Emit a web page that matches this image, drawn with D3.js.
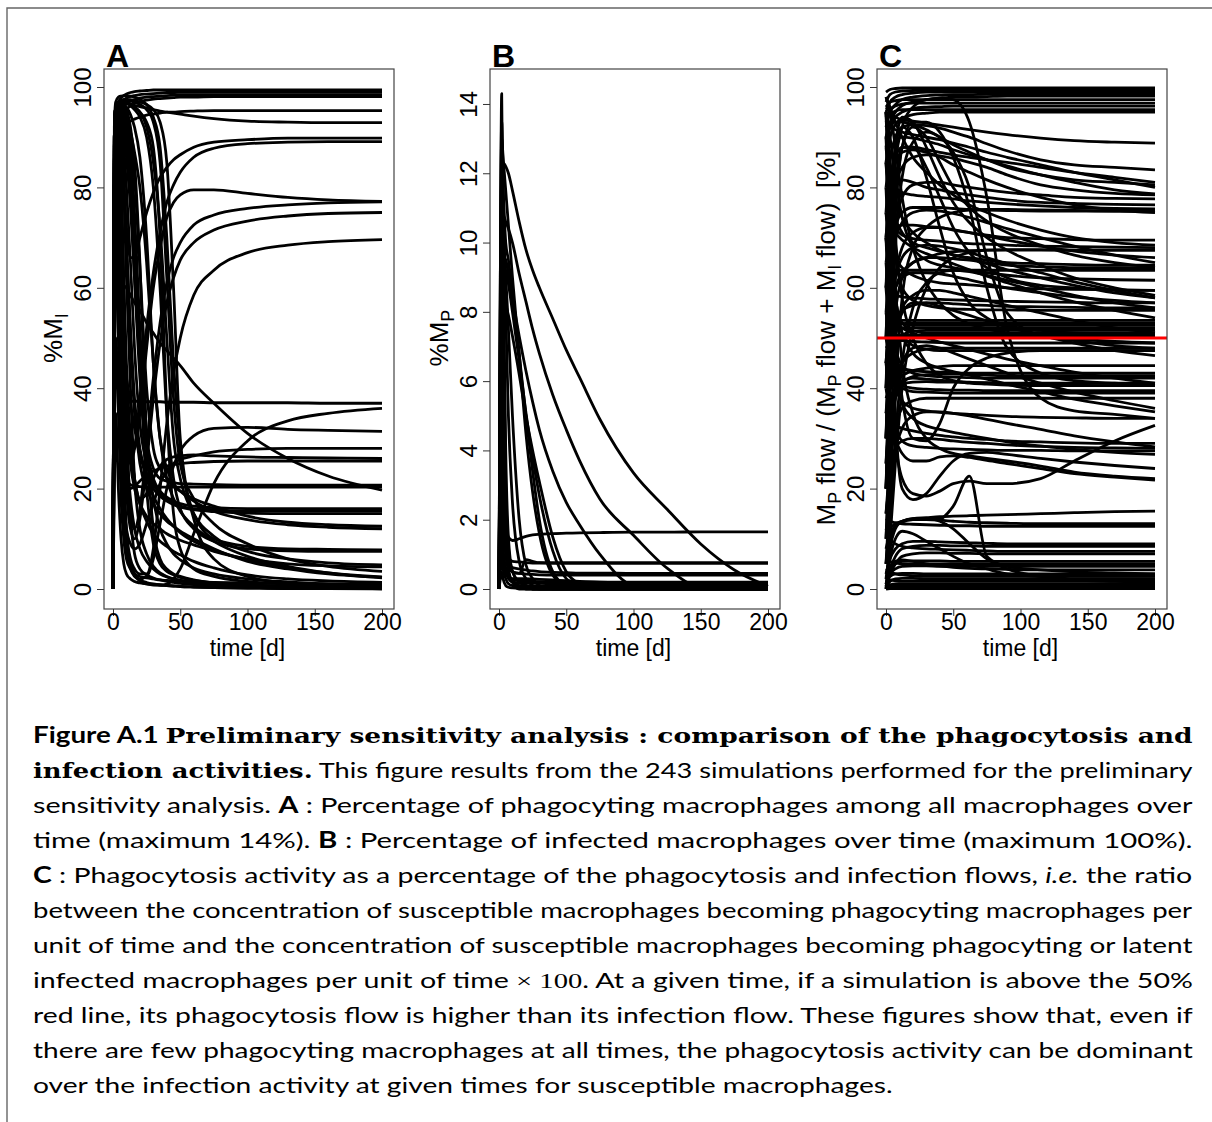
<!DOCTYPE html>
<html>
<head>
<meta charset="utf-8">
<script src="https://cdn.jsdelivr.net/npm/d3@7"></script>
<style>
  body { margin: 0; background: #fff; }
  svg text { font-family: "Liberation Sans", Arial, sans-serif; }
</style>
</head>
<body>
<div id="chart"></div>
<script>
// ---- data ----
const xTicks = [0, 50, 100, 150, 200];
const yTicksA = [0, 20, 40, 60, 80, 100];
const yTicksB = [0, 2, 4, 6, 8, 10, 12, 14];
const yTicksC = [0, 20, 40, 60, 80, 100];
const redLineLevel = 50;

// panel A: %M_I, sampled at these days
const timesA = [0, 1, 2, 4, 6, 8, 10, 13, 16, 20, 25, 30, 35, 40, 45, 50, 60, 75, 100, 130, 160, 200];
const curvesA = [
  [0,88,95,97,97.8,98.3,98.6,98.9,99.1,99.2,99.3,99.4,99.4,99.4,99.4,99.4,99.4,99.4,99.4,99.4,99.4,99.4],
  [0,75,93,96,97,97.5,97.8,98.1,98.3,98.5,98.6,98.7,98.8,98.9,98.9,99,99,99,99,99,99,99],
  [0,60,90,94,95.5,96.2,96.7,97.2,97.5,97.8,98,98.1,98.2,98.3,98.4,98.5,98.5,98.5,98.5,98.5,98.5,98.5],
  [0,50,85,92,94,95,95.6,96.2,96.7,97.1,97.4,97.6,97.7,97.8,97.9,98,98,98.1,98.1,98.1,98.1,98.1],
  [0,40,80,89,91,92,92.6,93.2,93.6,94,94.4,94.6,94.8,95,95,95.1,95.2,95.3,95.3,95.3,95.3,95.3],
  [0,85,94,96,96.5,96.6,96.6,96.5,96.3,96.1,95.8,95.5,95.2,95,94.8,94.6,94.2,93.7,93.2,93,92.9,92.9],
  [0,70,90,93,88,80,72,66,66,70,75,79,82,84,85.5,86.5,88,89,89.5,89.8,89.8,89.8],
  [0,60,85,80,60,40,30,25,28,38,52,63,71,77,80.5,83,86,87.8,88.7,89,89.1,89.1],
  [0,70,90,88,75,55,40,30,28,35,48,60,68,74,77,78.5,79.5,79.5,78.8,78,77.5,77.2],
  [0,60,85,80,60,40,25,15,12,16,28,42,53,61,66,69,72.5,74.5,75.8,76.5,76.9,77.1],
  [0,60,85,78,55,35,20,12,10,14,25,38,49,57,62,65.5,69,71.5,73.3,74.3,74.8,75],
  [0,50,80,70,45,25,12,6,4,3,3,8,20,33,43,50,58.5,63.5,67,68.5,69.2,69.6],
  [0,60,80,60,40,37.5,37.5,37.4,37.4,37.4,37.3,37.3,37.3,37.2,37.2,37.2,37.2,37.1,37.1,37.1,37,37],
  [0,50,80,60,35,20,10,5,3,1.5,1,0.8,0.8,1,2,4,11,21,29.5,33.5,35,36],
  [0,50,80,60,35,20,10,5,3,2,2.5,6,13,20,24.5,27.5,30.5,32,32.2,31.8,31.6,31.4],
  [0,45,75,55,30,18,12,9,8,9,13,17,21,23.5,25,25.8,26.5,27.3,27.8,28,28,28],
  [0,40,70,50,30,22,20,20,20.5,21.5,22.8,23.5,24,24.5,24.8,25,25.2,25.4,25.5,25.5,25.5,25.5],
  [0,55,88,85,70,52,38,28,22,18,19,22,24.5,25.8,26.3,26.5,26.7,26.5,26.3,26.2,26.1,26],
  [0,45,75,55,32,24,21.5,20.8,20.5,20.4,20.3,20.3,20.3,20.3,20.3,20.3,20.3,20.3,20.3,20.3,20.3,20.3],
  [0,85,95,96,95,92,86,76,62,45,30,24,22,21.5,21.2,21,20.9,20.8,20.7,20.7,20.7,20.7],
  [0,40,63,62.5,61.5,60.5,60,58.5,57,55.5,53,51,49,47.5,46,44.5,41,37,31,26,22.5,19.7],
  [0,90,96,96.5,96,94,90,80,62,42,28,22,19.5,18.3,17.5,17,16.5,16.2,16,16,16,16],
  [0,80,94,95,93,88,80,65,48,33,25,21,19,17.8,17,16.5,16,15.7,15.5,15.5,15.5,15.5],
  [0,70,90,91,88,80,68,52,38,28,23,20,18.5,17.5,16.8,16.3,15.8,15.4,15.1,15,15,15],
  [0,85,95,96,96,95.5,94,90,82,64,40,28,24,22,20.5,19.5,18,16.5,14.5,13.3,12.8,12.5],
  [0,90,96,96.8,96.8,96.5,96,94.5,92,86,70,45,30,24,21,19.5,17.5,15.5,13.8,12.8,12.3,12],
  [0,90,96,96.8,97,97,96.8,96.3,95.5,94,90,80,60,35,22,16,12,9.5,8,7.6,7.5,7.5],
  [0,90,96,96.8,97,97,96.9,96.6,96,95,92,85,72,50,30,22,15,10.5,7.5,6,5.2,4.8],
  [0,70,88,85,70,50,35,25,20,17,14.5,13,12,11,10.3,9.7,8.8,7.5,6,5,4.6,4.4],
  [0,85,94,94,90,82,70,50,35,25,20,17,15,13.5,12.5,11.5,10,8,5.5,4,3,2.3],
  [0,80,92,90,80,62,45,30,22,17,13.5,11,9.5,8.5,7.5,6.8,5.5,4.2,2.8,2,1.6,1.3],
  [0,60,80,60,30,15,8,4,2.5,1.8,1.3,1,0.8,0.7,0.6,0.5,0.4,0.3,0.2,0.1,0.1,0.1],
  [0,90,96,95,85,60,35,15,7,4,2.8,2.2,1.8,1.5,1.3,1.1,0.9,0.7,0.5,0.4,0.3,0.3],
  [0,90,96,97,97,96.5,95.5,92,85,65,30,12,6,4,3,2.5,1.8,1.2,0.8,0.5,0.4,0.3],
  [0,90,96,97,97,97,96.8,96.5,96,95,93,88,70,35,15,8,4,2.5,1.5,1,0.8,0.6],
  [0,88,96,97,96.5,95,92,85,70,45,20,9,5,3.5,2.8,2.3,1.7,1.2,0.8,0.6,0.5,0.4],
  [0,30,50,35,18,10,6,4,3,2.5,2.2,2,1.8,1.7,1.6,1.5,1.4,1.3,1.2,1.1,1,1],
  [0,20,35,20,10,5,3,2,1.5,1.2,1,0.9,0.8,0.7,0.6,0.5,0.4,0.3,0.2,0.1,0.1,0],
  [0,90,96,96,92,80,62,40,22,12,7,4.5,3.2,2.5,2,1.7,1.3,0.9,0.6,0.4,0.3,0.2],
  [0,50,75,70,55,40,28,18,12,8,5.5,4,3,2.4,2,1.7,1.3,1,0.7,0.5,0.4,0.3],
  [0,85,95,96.5,96.5,96,94.5,88,75,52,30,18,12,9,7,5.8,4.2,3,2,1.4,1,0.8],
  [0,90,96,97,97.3,97.5,97.5,97.5,97.3,97,96.5,95.5,93,85,60,30,15,10,8.5,8,7.9,7.8],
  [0,88,95,96.5,97,97.2,97.3,97.2,97,96.5,95.5,93,85,62,38,25,18,13,9,6,4.5,3.5],
  [0,92,97,98,98.2,98.3,98.3,98.2,98,97.5,96.5,94,88,70,45,28,14,6,2.5,1.2,0.7,0.5],
  [0,80,93,95,95,94.5,93.5,91,87,80,65,45,30,22,18,15.5,12.5,9.5,6.5,4.5,3.2,2.2],
  [0,30,48,48,47,45,42,37,32,27,22,18.5,16,14,12.5,11.2,9.5,7.8,5.8,4.2,3.2,2.4]
];

// panel B: %M_P
const timesB = [0, 1, 2, 3, 5, 7, 10, 15, 20, 25, 30, 40, 50, 60, 75, 100, 125, 150, 175, 200];
const curvesB = [
  [0,8,12,12.3,12.2,12,11.5,10.6,9.8,9.2,8.7,7.8,6.9,6.1,4.9,3.35,2.3,1.3,0.55,0.08],
  [0,7,10.5,10.8,10.6,10.4,10,9.1,8.3,7.5,6.8,5.6,4.6,3.7,2.6,1.55,0.6,0.05,0,0],
  [0,6,9,9.6,9.5,9.1,8.4,7.3,6.3,5.4,4.6,3.4,2.5,1.85,1,0.1,0,0,0,0],
  [0,8,12,11.5,10,9.5,8.5,6.8,5,3.4,2,0.5,0.1,0,0,0,0,0,0,0],
  [0,6,9,9.3,9.2,8.8,8,6.6,5.1,3.8,2.7,1.1,0.3,0.1,0,0,0,0,0,0],
  [0,5,8,8.3,8.2,7.9,7.3,6.2,5,4,3.1,1.5,0.5,0.15,0,0,0,0,0,0],
  [0,9,13,12.5,11.5,10.5,9,6.8,4.5,2.8,1.6,0.4,0.1,0,0,0,0,0,0,0],
  [0,9,14.3,10,4,1.5,0.5,0.2,0.1,0,0,0,0,0,0,0,0,0,0,0],
  [0,7,12,8,3,1.2,0.5,0.2,0.1,0,0,0,0,0,0,0,0,0,0,0],
  [0,6,10,6,2,0.6,0.2,0.1,0,0,0,0,0,0,0,0,0,0,0,0],
  [0,4,7,4,1.5,0.5,0.2,0,0,0,0,0,0,0,0,0,0,0,0,0],
  [0,9,13.5,12,8,5,2.5,0.8,0.3,0.1,0,0,0,0,0,0,0,0,0,0],
  [0,5,9.5,9.8,9,7.5,5,2,0.7,0.3,0.1,0,0,0,0,0,0,0,0,0],
  [0,2,4,3,2,1.5,1.4,1.45,1.52,1.56,1.58,1.6,1.61,1.62,1.63,1.64,1.64,1.65,1.65,1.65],
  [0,3,6,4,2,1,0.5,0.45,0.85,0.8,0.76,0.75,0.75,0.75,0.75,0.75,0.75,0.75,0.75,0.75],
  [0,2,5,3,1.5,0.9,0.8,0.78,0.76,0.75,0.75,0.75,0.75,0.75,0.75,0.75,0.75,0.75,0.75,0.75],
  [0,2,4,2.5,1.2,0.7,0.62,0.58,0.55,0.52,0.5,0.48,0.47,0.46,0.46,0.45,0.45,0.45,0.45,0.45],
  [0,1.5,3,2,1,0.6,0.5,0.45,0.43,0.42,0.41,0.4,0.4,0.4,0.4,0.4,0.4,0.4,0.4,0.4],
  [0,1,2,1.2,0.6,0.35,0.28,0.25,0.23,0.22,0.21,0.2,0.2,0.2,0.2,0.2,0.2,0.2,0.2,0.2],
  [0,1,1.5,1,0.5,0.3,0.2,0.18,0.17,0.16,0.16,0.15,0.15,0.15,0.15,0.15,0.15,0.15,0.15,0.15],
  [0,0.5,1,0.6,0.3,0.15,0.1,0.09,0.09,0.08,0.08,0.08,0.08,0.08,0.08,0.08,0.08,0.08,0.08,0.08],
  [0,0.3,0.5,0.3,0.1,0.05,0.03,0.02,0.02,0.02,0.02,0.02,0.02,0.02,0.02,0.02,0.02,0.02,0.02,0.02],
  [0,1,2,1,0.5,0.35,0.3,0.3,0.3,0.29,0.28,0.26,0.24,0.22,0.2,0.17,0.14,0.12,0.1,0.1]
];

// panel C: phagocytosis flow share [%]
const timesC = [0, 3, 7, 12, 20, 30, 40, 50, 62, 75, 90, 115, 140, 170, 200];
const curvesC = [
  [99,99.5,99.7,99.8,99.8,99.8,99.8,99.8,99.8,99.8,99.8,99.8,99.8,99.8,99.8],
  [97,98.5,99,99.2,99.3,99.4,99.4,99.4,99.4,99.4,99.4,99.4,99.4,99.4,99.4],
  [95,97,98,98.5,98.8,99,99,99,99,99,99,99,99,99,99],
  [92,95,96.5,97.5,98,98.3,98.4,98.5,98.5,98.6,98.6,98.6,98.6,98.6,98.6],
  [90,93,95,96.3,97,97.5,97.8,98,98,98.1,98.2,98.2,98.2,98.2,98.2],
  [96,97,97.3,97.5,97.5,97.5,97.5,97.5,97.5,97.5,97.5,97.5,97.5,97.5,97.5],
  [94,95.5,96.2,96.6,96.8,96.8,96.8,96.8,96.8,96.8,96.8,96.8,96.8,96.8,96.8],
  [88,92,94,95,95.7,96,96.1,96.2,96.2,96.2,96.2,96.2,96.2,96.2,96.2],
  [93,94.5,95.2,95.5,95.5,95.5,95.5,95.5,95.5,95.5,95.5,95.5,95.5,95.5,95.5],
  [85,90,92.5,93.8,94.5,94.8,95,95,95,95,95,95,95,95,95],
  [96,95,94,93.5,93.2,92.8,92.4,92,91.5,91,90.5,89.8,89.3,89,88.8],
  [60,72,85,92,96,97.5,97.8,97.5,93,78,52,38,35.5,34.8,34],
  [30,55,75,88,93,93,91,86,76,60,48,43,41.5,41,40.5],
  [20,45,68,82,89,91,90,87,80,66,55,50.5,49.5,48.5,48],
  [75,85,90,92,92.5,92.3,91.8,91,90,88.7,87.3,85.5,84.5,84,83.5],
  [60,78,86,88,88,87.5,87,86.5,86,85.5,85,84,83,82,81],
  [90,92,93,93,92.5,91.5,90,88.5,87,85.5,84,82.5,81.5,81,80.5],
  [50,70,80,84,86,86.5,86.3,85.8,85,84,82.5,80.5,79.5,78.8,78.5],
  [40,60,72,78,80.5,81,81,80.5,80,79.5,79,78.5,78,77.8,77.7],
  [70,78,81,81.5,81,80,79.5,79,78.5,78,77.5,77,76.8,76.6,76.5],
  [85,82,80,79,78.5,78.2,78,77.7,77.3,77,76.7,76.3,76,75.8,75.7],
  [55,65,72,75,76,76,76,75.8,75.6,75.5,75.4,75.3,75.3,75.3,75.3],
  [65,70,72,72.5,72.5,72.2,72,71.6,71,70.3,69.5,68.3,67.3,66.5,66],
  [30,50,62,68,71,72,72,71.5,71,70.5,70,69.8,69.6,69.5,69.5],
  [80,75,72,70.5,69.8,69.5,69.3,69,68.8,68.7,68.5,68.3,68.2,68.1,68],
  [45,55,60,63,65,66,66.8,67.2,67.4,67.5,67.5,67.5,67.5,67.5,67.5],
  [90,85,78,74,71,69,67.5,66.5,66,65.5,65,64.8,64.6,64.5,64.5],
  [20,40,55,62,65,66,66,65.8,65.5,65,64.5,64.2,64,64,64],
  [65,64,63.5,63.5,63.5,63.5,63.5,63.5,63.5,63.5,63.5,63.5,63.5,63.5,63.5],
  [95,90,82,74,68,65.5,64.5,64,63.5,63,62.5,62,61.8,61.6,61.5],
  [50,56,60,62,63,63,62.8,62.3,61.6,60.8,60,59,58.2,57.5,57],
  [75,70,66,64,62.5,61.5,61,60.8,60.6,60.3,60,59.8,59.7,59.6,59.5],
  [60,59,58.5,58.2,58,57.8,57.7,57.6,57.5,57.4,57.3,57.2,57.1,57,57],
  [40,48,53,55.5,56.5,57,57,56.8,56.6,56.5,56.3,56.2,56.1,56,56],
  [85,75,66,60,57.5,56.5,56,55.8,55.7,55.6,55.6,55.5,55.5,55.5,55.5],
  [53.5,53.5,53.5,53.5,53.5,53.5,53.5,53.5,53.5,53.5,53.5,53.5,53.5,53.5,53.5],
  [45,50,52,52.8,53,53,53,53,53,53,53,53,53,53,53],
  [70,60,55,53,52.5,52.5,52.5,52.5,52.5,52.5,52.5,52.5,52.5,52.5,52.5],
  [52,52,52,52,52,52,52,52,52,52,52,52,52,52,52],
  [30,42,48,50.5,51.3,51.5,51.5,51.5,51.5,51.5,51.5,51.5,51.5,51.5,51.5],
  [90,70,58,53,51.5,51,51,51,51,51,51,51,51,51,51],
  [50.5,50.5,50.5,50.5,50.5,50.5,50.5,50.5,50.5,50.5,50.5,50.5,50.5,50.5,50.5],
  [48,49,49.5,49.5,49.3,49.2,49.1,49,49,49,49,49,49,49,49],
  [10,30,40,45,47,47.8,48,48,48,48,48,48,48,48,48],
  [75,65,56,51,48.5,47.8,47.5,47.5,47.5,47.5,47.5,47.5,47.5,47.5,47.5],
  [70,62,50,38,30,29.5,33,40,44,46,47,47.5,47.5,47.5,47.5],
  [38,40,41.5,42.5,43.5,44,44.3,44.5,44.5,44.5,44.5,44.5,44.5,44.5,44.5],
  [55,50,46,44,43.5,43.3,43.2,43.1,43,43,43,43,43,43,43],
  [20,32,38,41,42.3,42.7,42.8,42.8,42.7,42.6,42.5,42.5,42.5,42.5,42.5],
  [65,55,48,44.5,43,42.5,42.3,42.2,42.1,42,42,42,42,42,42],
  [35,38,40,40.8,41.2,41.3,41.2,41.2,41.1,41.1,41,41,41,41,41],
  [25,35,40,41.5,42,41.8,41.6,41.4,41.2,41,40.8,40.7,40.6,40.5,40.5],
  [45,43,41.5,40.5,40,39.8,39.7,39.6,39.6,39.5,39.5,39.5,39.5,39.5,39.5],
  [80,60,45,40,39.3,39.2,39.1,39,39,39,39,39,39,39,39],
  [15,25,32,36,37.5,38,38,38,38,38,38,38,38,38,38],
  [50,45,40,37.5,36,35.5,35.2,35,34.8,34.6,34.4,34.2,34.1,34,34],
  [70,50,30,22,19,18.5,19.5,21,21.5,21,21,22,25.5,29.5,32.6],
  [33,33,32.5,32,31.5,31,30.6,30.3,30,29.8,29.5,29.3,29.1,29,29],
  [20,25,28,29.5,30,30,29.8,29.5,29.2,29,28.7,28.4,28.2,28.1,28],
  [45,38,32,29.5,28.5,28.2,28,27.9,27.8,27.7,27.6,27.6,27.5,27.5,27.5],
  [40,35,30,27,25.5,25.5,26.3,26.5,26.2,25.6,25,24,23,22.3,21.7],
  [95,70,35,20,17.8,19,22.5,25.5,27,27.2,26.8,26,25.3,24.6,24],
  [8,11,12.5,13.3,13.8,13.9,14,16.5,22.5,6.5,4.5,3.8,3.4,3.2,3],
  [5,10,12.5,13.5,13.8,13.8,13.7,13.5,13.3,13.2,13.1,13,13,13,13],
  [14,13.5,13.2,13,12.9,12.8,12.7,12.6,12.6,12.5,12.5,12.5,12.5,12.5,12.5],
  [10,12,13,13.5,14,14.2,14.4,14.5,14.6,14.7,14.8,15,15.2,15.4,15.5],
  [2,8,12,13.5,14,14,13.5,12,9,6,4,2.5,1.8,1.5,1.3],
  [3,6,8,9,9.5,9.5,9.4,9.3,9.2,9.1,9,9,9,9,9],
  [1,4,6.5,8,8.5,8.7,8.7,8.6,8.6,8.5,8.5,8.5,8.5,8.5,8.5],
  [12,10,9,8.5,8.2,8,7.9,7.8,7.7,7.6,7.5,7.5,7.5,7.5,7.5],
  [0.5,3,5,6.5,7,7.2,7.2,7.1,7.1,7,7,7,7,7,7],
  [2,4,5,5.5,5.6,5.6,5.6,5.5,5.5,5.5,5.5,5.5,5.5,5.5,5.5],
  [6,5.5,5.2,5,5,5,5,5,5,5,5,5,5,5,5],
  [1,3,4,4.5,4.6,4.6,4.5,4.5,4.5,4.5,4.5,4.5,4.5,4.5,4.5],
  [3,4.5,5.5,5.8,5.5,5,4.6,4.3,4.1,4,3.9,3.8,3.8,3.8,3.8],
  [1,2.5,3,3.1,3.1,3,3,3,3,3,3,3,3,3,3],
  [4,3.5,3,2.8,2.6,2.5,2.5,2.5,2.5,2.5,2.5,2.5,2.5,2.5,2.5],
  [0.5,1.5,2,2.1,2.1,2,2,2,2,2,2,2,2,2,2],
  [2,1.8,1.6,1.5,1.5,1.5,1.5,1.5,1.5,1.5,1.5,1.5,1.5,1.5,1.5],
  [0.2,0.8,1,1,1,1,1,1,1,1,1,1,1,1,1],
  [1,0.8,0.7,0.6,0.6,0.6,0.6,0.6,0.6,0.6,0.6,0.6,0.6,0.6,0.6],
  [0.1,0.3,0.3,0.3,0.3,0.3,0.3,0.3,0.3,0.3,0.3,0.3,0.3,0.3,0.3],
  [0,0.1,0.1,0.1,0.1,0.1,0.1,0.1,0.1,0.1,0.1,0.1,0.1,0.1,0.1],
  [0,6,10,11.5,11,9.5,8,6.5,5,4,3,2.5,2,2,2],
  [50,75,88,92,90,82,72,63,57,54,52.5,51.5,51,50.8,50.5],
  [30,60,80,88,88,84,78,72,67,64,62,60.5,60,59.6,59.5],
  [95,85,70,58,50,45,42.5,41.5,41,40.8,40.6,40.5,40.5,40.5,40.5],
  [5,20,40,58,68,72,74,75,75.5,75.6,75.6,75.5,75.4,75.3,75.3],
  [0,10,25,40,52,60,64,66,67,67.5,67.6,67.6,67.5,67.5,67.5],
  [93,92,91.5,91,90.5,90,89.5,88.8,88,87,86,84.5,83,81.5,80],
  [80,86,89,90,89.8,89.2,88.5,87.5,86.5,85.5,84.3,82.5,81,79.5,78.7],
  [70,80,85,87,87.5,87,86,84.5,83,81.5,80,78,76.5,75.5,75],
  [98,96,93,90,86,83,80.5,78.5,76.5,75,73.5,71.5,70,69,68.5],
  [60,65,70,73,75,75.5,75.3,74.8,74,73,71.8,70,68.3,66.5,65],
  [88,80,74,71,69,68,67.3,66.6,65.8,64.8,63.6,62,60.5,59,58],
  [45,55,62,66,68,68.5,68.3,67.8,67,66,64.8,63,61.2,59.5,58],
  [75,73,71,69.5,68,66.8,65.8,64.8,63.6,62.3,61,59,57.2,55.5,54],
  [35,45,52,56,58.5,59.5,59.5,59,58.3,57.5,56.5,55,53.5,52,51],
  [25,40,50,55,57,57,56.3,55.5,54.5,53.4,52.2,50.5,49,47.5,46.5],
  [55,54,53,52,51,50,49.2,48.5,47.7,46.8,45.8,44.5,43.2,42,41],
  [85,70,58,51,47,45,44,43.3,42.6,41.8,40.8,39.3,37.8,36.5,35.3],
  [10,25,38,45,48,48.5,48,47,45.8,44.5,43,41,39.2,37.5,36],
  [60,50,42,37,34,32.5,31.8,31.2,30.6,30,29.3,28.5,27.8,27.2,26.8],
  [15,22,28,32,34.5,35.3,35.3,35,34.5,33.8,33,31.8,30.5,29.3,28.3],
  [95,80,60,45,35,30,28,27,26.5,26,25.5,24.5,23.3,22.5,22],
  [40,70,88,94,93,88,82,77,73,70,67.5,64.5,62,60,58.5],
  [20,50,75,88,92,90,85,80,76,73.3,71,68.5,66.5,65,64],
  [98,95,88,78,68,61,57,54.5,52.8,51.8,51,50.3,49.8,49.3,49],
  [5,15,30,45,56,61,63,63.5,63.2,62.5,61.5,60,58.5,57,56]
];

// caption, one entry per printed line: [text, style]
const captionLines = [
  [["Figure A.1 ", "bsans"], ["Preliminary sensitivity analysis : comparison of the phagocytosis and", "bserif"]],
  [["infection activities.", "bserif"], [" This figure results from the 243 simulations performed for the preliminary", "sans"]],
  [["sensitivity analysis. ", "sans"], ["A", "bsans"], [" : Percentage of phagocyting macrophages among all macrophages over", "sans"]],
  [["time (maximum 14%). ", "sans"], ["B", "bsans"], [" : Percentage of infected macrophages over time (maximum 100%).", "sans"]],
  [["C", "bsans"], [" : Phagocytosis activity as a percentage of the phagocytosis and infection flows, ", "sans"], ["i.e.", "isans"], [" the ratio", "sans"]],
  [["between the concentration of susceptible macrophages becoming phagocyting macrophages per", "sans"]],
  [["unit of time and the concentration of susceptible macrophages becoming phagocyting or latent", "sans"]],
  [["infected macrophages per unit of time ", "sans"], ["\u00d7 100", "serif"], [". At a given time, if a simulation is above the 50%", "sans"]],
  [["red line, its phagocytosis flow is higher than its infection flow. These figures show that, even if", "sans"]],
  [["there are few phagocyting macrophages at all times, the phagocytosis activity can be dominant", "sans"]],
  [["over the infection activity at given times for susceptible macrophages.", "sans"]]
];

// ---- layout ----
const width = 1212, height = 1122;
const boxTop = 69, boxBottom = 609, boxW = 290;
const y0px = 589, y100px = 87;

const svg = d3.select("#chart").append("svg")
  .attr("width", width)
  .attr("height", height);

// page frame (top and left rules)
svg.append("path")
  .attr("d", `M7,${height} L7,8 L${width},8`)
  .attr("fill", "none")
  .attr("stroke", "#666")
  .attr("stroke-width", 1.4);

const panels = [
  { label: "A", left: 104, times: timesA, curves: curvesA, yMax: 100, yTicks: yTicksA,
    ylab: [["%M", 0], ["I", 1]] },
  { label: "B", left: 490, times: timesB, curves: curvesB, yMax: 14.49, yTicks: yTicksB,
    ylab: [["%M", 0], ["P", 1]] },
  { label: "C", left: 877, times: timesC, curves: curvesC, yMax: 100, yTicks: yTicksC,
    ylab: [["M", 0], ["P", 1], [" flow / (M", 0], ["P", 1], [" flow + M", 0], ["I", 1], [" flow)\u00a0 [%]", 0]],
    red: true }
];

panels.forEach(p => {
  const g = svg.append("g");
  const x = d3.scaleLinear().domain([0, 200]).range([p.left + 9, p.left + 278]);
  const y = d3.scaleLinear().domain([0, p.yMax]).range([y0px, y100px]);

  // simulation trajectories
  const line = d3.line()
    .x((d, i) => x(p.times[i]))
    .y(d => y(d))
    .curve(d3.curveMonotoneX);

  g.append("g").selectAll("path")
    .data(p.curves)
    .join("path")
    .attr("d", line)
    .attr("fill", "none")
    .attr("stroke", "#000")
    .attr("stroke-width", 2.8)
    .attr("stroke-linejoin", "round");

  // 50% reference line
  if (p.red) {
    g.append("line")
      .attr("x1", p.left).attr("x2", p.left + boxW)
      .attr("y1", y(redLineLevel)).attr("y2", y(redLineLevel))
      .attr("stroke", "#ff0000")
      .attr("stroke-width", 3);
  }

  // box
  g.append("rect")
    .attr("x", p.left).attr("y", boxTop)
    .attr("width", boxW).attr("height", boxBottom - boxTop)
    .attr("fill", "none")
    .attr("stroke", "#444")
    .attr("stroke-width", 1.2);

  // y axis, R style rotated labels
  const yAxis = g.append("g")
    .attr("transform", `translate(${p.left},0)`)
    .call(d3.axisLeft(y).tickValues(p.yTicks).tickSize(7).tickFormat(d3.format("d")));
  yAxis.select(".domain").remove();
  yAxis.selectAll(".tick line").attr("stroke", "#333");
  yAxis.selectAll(".tick text")
    .attr("x", null).attr("dy", null)
    .attr("transform", "translate(-13,0) rotate(-90)")
    .attr("text-anchor", "middle")
    .attr("fill", "#000")
    .style("font-size", "24px")
    .style("font-family", "'Liberation Sans', Arial, sans-serif");

  // x axis
  const xAxis = g.append("g")
    .attr("transform", `translate(0,${boxBottom})`)
    .call(d3.axisBottom(x).tickValues(xTicks).tickSize(7));
  xAxis.select(".domain").remove();
  xAxis.selectAll(".tick line").attr("stroke", "#333");
  xAxis.selectAll(".tick text")
    .attr("y", 21).attr("dy", null)
    .attr("fill", "#000")
    .style("font-size", "23px")
    .style("font-family", "'Liberation Sans', Arial, sans-serif");

  // x title
  g.append("text")
    .attr("x", (x(0) + x(200)) / 2)
    .attr("y", 656)
    .attr("text-anchor", "middle")
    .style("font-size", "23px")
    .text("time [d]");

  // y title with subscripts
  const yt = g.append("text")
    .attr("transform", `translate(${p.left - 42},${(y0px + y100px) / 2}) rotate(-90)`)
    .attr("text-anchor", "middle")
    .style("font-size", "26px")
    .style("white-space", "pre");
  let shifted = false;
  p.ylab.forEach(([t, sub]) => {
    const ts = yt.append("tspan").text(t);
    if (sub && !shifted) { ts.attr("dy", 6).style("font-size", "18px"); shifted = true; }
    else if (sub) { ts.style("font-size", "18px"); }
    else if (shifted) { ts.attr("dy", -6); shifted = false; }
  });

  // panel letter
  g.append("text")
    .attr("x", p.left + 2)
    .attr("y", 67)
    .style("font-size", "32px")
    .style("font-weight", "bold")
    .text(p.label);
});

// ---- caption ----
const fontFor = {
  sans:  { family: "Lato, 'Noto Sans', sans-serif", weight: "normal", style: "normal" },
  isans: { family: "Lato, 'Noto Sans', sans-serif", weight: "normal", style: "italic" },
  bsans: { family: "Lato, 'Noto Sans', sans-serif", weight: "bold", style: "normal" },
  bserif: { family: "'DejaVu Serif', 'Liberation Serif', serif", weight: "bold", style: "normal" },
  serif: { family: "'Liberation Serif', serif", weight: "normal", style: "normal" }
};
const capLeft = 33, capRight = 1193, capBase = 743, capStep = 35;

const capNodes = captionLines.map((segs, i) => {
  const t = svg.append("text")
    .attr("x", 0).attr("y", 0)
    .style("font-size", "22px")
    .style("white-space", "pre")
    .attr("fill", "#000");
  segs.forEach(([s, k]) => {
    const f = fontFor[k];
    t.append("tspan").text(s)
      .style("font-family", f.family)
      .style("font-weight", f.weight)
      .style("font-style", f.style)
      .style("font-size", k === "bserif" ? "21px" : "22px");
  });
  return t;
});
const scales = capNodes.map(t => (capRight - capLeft) / t.node().getComputedTextLength());
const lastScale = d3.median(scales.slice(0, scales.length - 1));
capNodes.forEach((t, i) => {
  const s = i === capNodes.length - 1 ? lastScale : scales[i];
  t.attr("transform", `translate(${capLeft},${capBase + i * capStep}) scale(${s},1)`);
});
</script>
</body>
</html>
